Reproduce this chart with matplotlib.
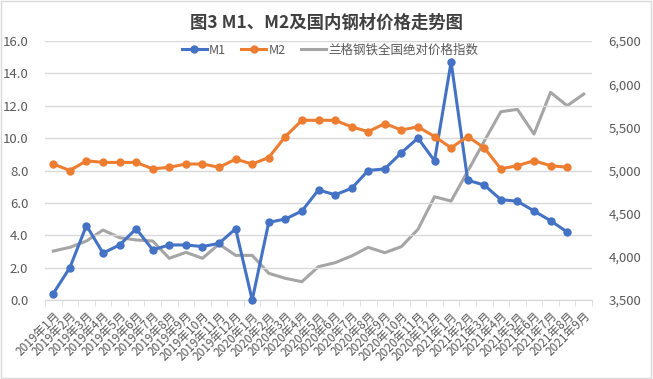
import matplotlib.pyplot as plt
from matplotlib.patches import Rectangle
from matplotlib.ticker import FuncFormatter, MultipleLocator

plt.rcParams['font.family'] = ['Noto Sans CJK SC', 'DejaVu Sans']

months = [f"{y}年{m}月" for y, n in [(2019, 12), (2020, 12), (2021, 9)] for m in range(1, n + 1)]

m1 = [0.4, 2.0, 4.6, 2.9, 3.4, 4.4, 3.1, 3.4, 3.4, 3.3, 3.5, 4.4,
      0.0, 4.8, 5.0, 5.5, 6.8, 6.5, 6.9, 8.0, 8.1, 9.1, 10.0, 8.6,
      14.7, 7.4, 7.1, 6.2, 6.1, 5.5, 4.9, 4.2]
m2 = [8.4, 8.0, 8.6, 8.5, 8.5, 8.5, 8.1, 8.2, 8.4, 8.4, 8.2, 8.7,
      8.4, 8.8, 10.1, 11.1, 11.1, 11.1, 10.7, 10.4, 10.9, 10.5, 10.7, 10.1,
      9.4, 10.1, 9.4, 8.1, 8.3, 8.6, 8.3, 8.2]
steel = [4067, 4110, 4183, 4311, 4222, 4195, 4183, 3983, 4052, 3983, 4148, 4017,
         4017, 3809, 3751, 3712, 3886, 3932, 4010, 4110, 4048, 4118, 4318, 4696,
         4646, 4990, 5340, 5681, 5708, 5422, 5905, 5750, 5885]

tick_color = '#595959'

fig = plt.figure(figsize=(6.53, 3.79), dpi=100)
ax = fig.add_axes([45 / 653, 1 - 300 / 379, 547 / 653, 259 / 379])
ax2 = ax.twinx()

x = list(range(len(months)))
l1, = ax.plot(x[:len(m1)], m1, color='#4472C4', lw=2.2, marker='o', ms=5, label='M1',
              zorder=4, clip_on=False)
l2, = ax.plot(x[:len(m2)], m2, color='#ED7D31', lw=2.2, marker='o', ms=5, label='M2',
              zorder=4, clip_on=False)
l3, = ax2.plot(x, steel, color='#A5A5A5', lw=2.2, label='兰格钢铁全国绝对价格指数', zorder=2)
ax.set_zorder(ax2.get_zorder() + 1)
ax.patch.set_visible(False)

ax.set_xlim(-0.5, len(months) - 0.5)
ax.set_ylim(0, 16)
ax2.set_ylim(3500, 6500)
ax.yaxis.set_major_locator(MultipleLocator(2))
ax2.yaxis.set_major_locator(MultipleLocator(500))
ax.yaxis.set_major_formatter(FuncFormatter(lambda v, p: f"{v:.1f}"))
ax2.yaxis.set_major_formatter(FuncFormatter(lambda v, p: f"{v:,.0f}"))
ax.grid(axis='y', color='#D9D9D9', lw=1)
ax.set_axisbelow(True)

ax.set_xticks(x)
ax.set_xticklabels(months, rotation=45, ha='right', rotation_mode='anchor', fontsize=8.5, color=tick_color)
ax.set_xticks([i - 0.5 for i in range(len(months) + 1)], minor=True)
ax.tick_params(axis='x', which='major', length=0, pad=7)
ax.tick_params(axis='x', which='minor', length=4, color='#D9D9D9')
ax.tick_params(axis='y', length=0, labelsize=9.5, colors=tick_color, pad=12)
ax2.tick_params(axis='y', length=0, labelsize=9.5, colors=tick_color, pad=12)

for a in (ax, ax2):
    for s in ('top', 'left', 'right'):
        a.spines[s].set_visible(False)
    a.spines['bottom'].set_color('#D9D9D9')

fig.text(0.5, 1 - 23 / 379, '图3 M1、M2及国内钢材价格走势图', ha='center', va='center',
         fontsize=12.5, fontweight='bold', color='#404040')
fig.legend(handles=[l1, l2, l3], loc='center', bbox_to_anchor=(330 / 653, 1 - 50 / 379),
           ncol=3, frameon=False, fontsize=9, labelcolor=tick_color,
           handlelength=2, handletextpad=0.2, columnspacing=1.2)

fig.patches.append(Rectangle((0.002, 0.003), 0.995, 0.994, transform=fig.transFigure,
                             fill=False, edgecolor='#D9D9D9', lw=1))

fig.savefig('out.png', dpi=100)
